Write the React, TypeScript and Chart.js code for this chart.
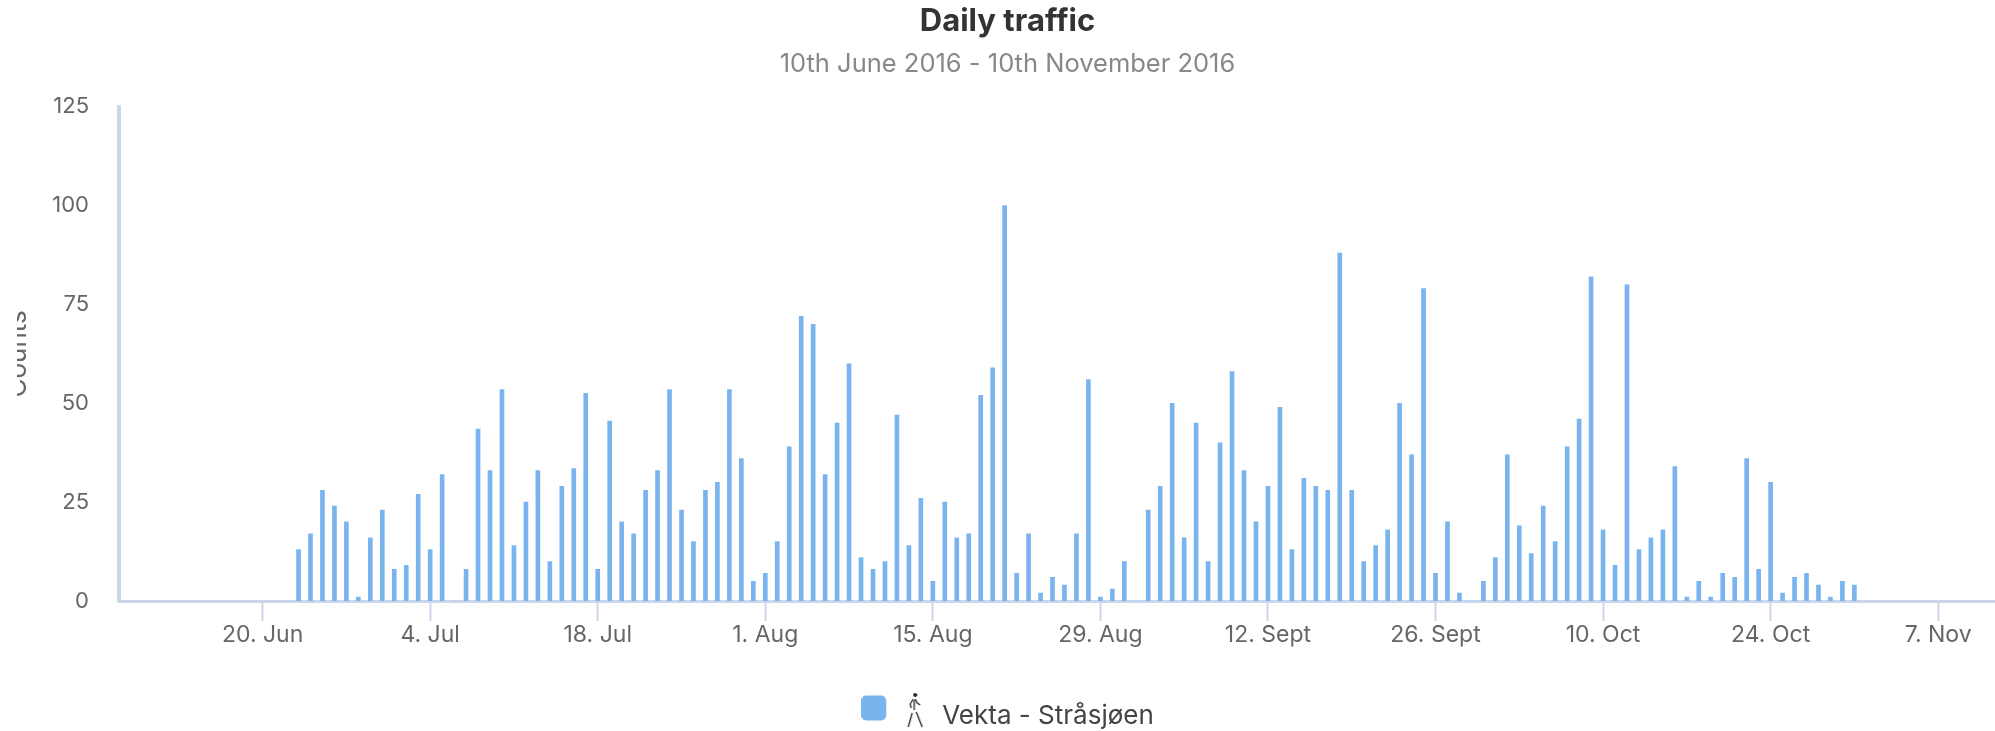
import React, { useEffect, useRef } from "react";
import { Chart, registerables } from "chart.js";

Chart.register(...registerables);

const titleText = "Daily traffic";
const subtitleText = "10th June 2016 - 10th November 2016";
const yAxisTitle = "Counts";
const seriesName = "Vekta - Stråsjøen";
const FONT = "Inter";

// one entry per day, starting on 8 June 2016
const startDay = "2016-06-08";
const tickLabels: Record<string, string> = {
  "2016-06-20": "20. Jun",
  "2016-07-04": "4. Jul",
  "2016-07-18": "18. Jul",
  "2016-08-01": "1. Aug",
  "2016-08-15": "15. Aug",
  "2016-08-29": "29. Aug",
  "2016-09-12": "12. Sept",
  "2016-09-26": "26. Sept",
  "2016-10-10": "10. Oct",
  "2016-10-24": "24. Oct",
  "2016-11-07": "7. Nov",
};
const yTicks = [0, 25, 50, 75, 100, 125];

const leadingGap = [null, null, null, null, null, null, null, null, null, null, null, null, null, null, null];
const juneCounts = [13, 17, 28, 24, 20, 1, 16, 23];
const julyCounts = [8, 9, 27, 13, 32, 0, 8, 43.5, 33, 53.5, 14, 25, 33, 10, 29, 33.5, 52.5, 8, 45.5, 20, 17, 28, 33, 53.5, 23, 15, 28, 30, 53.5, 36, 5];
const augustCounts = [7, 15, 39, 72, 70, 32, 45, 60, 11, 8, 10, 47, 14, 26, 5, 25, 16, 17, 52, 59, 100, 7, 17, 2, 6, 4, 17, 56, 1, 3, 10];
const septemberCounts = [0, 23, 29, 50, 16, 45, 10, 40, 58, 33, 20, 29, 49, 13, 31, 29, 28, 88, 28, 10, 14, 18, 50, 37, 79, 7, 20, 2, 0, 5];
const octoberCounts = [11, 37, 19, 12, 24, 15, 39, 46, 82, 18, 9, 80, 13, 16, 18, 34, 1, 5, 1, 7, 6, 36, 8, 30, 2, 6, 7, 4, 1, 5, 4];
const trailingGap = [null, null, null, null, null, null, null, null, null, null, null, null];

const counts = [...leadingGap, ...juneCounts, ...julyCounts, ...augustCounts, ...septemberCounts, ...octoberCounts, ...trailingGap];

const categories = counts.map((_, i) => {
  const d = new Date(startDay + "T00:00:00Z");
  d.setUTCDate(d.getUTCDate() + i);
  return d.toISOString().slice(0, 10);
});

function legendIcon(): HTMLCanvasElement {
  const c = document.createElement("canvas");
  c.width = 68;
  c.height = 52;
  const g = c.getContext("2d")!;
  g.fillStyle = "#7ab4ee";
  g.beginPath();
  g.roundRect(0, 5.5, 25, 25, 5);
  g.fill();
  g.translate(-5, 2);
  g.strokeStyle = "#222";
  g.fillStyle = "#222";
  g.lineWidth = 1.3;
  g.beginPath();
  g.arc(59, 3, 2, 0, Math.PI * 2);
  g.fill();
  g.beginPath();
  g.moveTo(57, 7); g.lineTo(54, 12); g.lineTo(55, 16);
  g.moveTo(59, 7); g.lineTo(61, 11); g.lineTo(64, 13);
  g.moveTo(58, 8); g.lineTo(58, 18);
  g.moveTo(56, 21); g.lineTo(52, 35);
  g.moveTo(60, 20); g.lineTo(66, 35);
  g.stroke();
  return c;
}

export default function App() {
  const ref = useRef<HTMLCanvasElement>(null);
  useEffect(() => {
    const chart = new Chart(ref.current!, {
      type: "bar",
      data: {
        labels: categories,
        datasets: [
          {
            label: seriesName,
            data: counts,
            backgroundColor: "#7ab4ee",
            barThickness: 4,
            borderWidth: 0,
          },
        ],
      },
      options: {
        responsive: false,
        animation: false,
        layout: { padding: { top: 3, left: 0, right: 0, bottom: 0 } },
        plugins: {
          tooltip: { enabled: false },
          title: {
            display: true,
            text: titleText,
            color: "#333333",
            font: { family: FONT, size: 31, weight: "bold" },
            padding: { top: 0, bottom: 9 },
          },
          subtitle: {
            display: true,
            text: subtitleText,
            color: "#888888",
            font: { family: FONT, size: 25.5, weight: "normal" },
            padding: { top: 0, bottom: 27 },
          },
          legend: {
            position: "bottom",
            onClick: undefined,
            labels: {
              usePointStyle: true,
              pointStyle: legendIcon(),
              pointStyleWidth: 68,
              color: "#444444",
              font: { family: FONT, size: 26 },
              padding: 10,
            },
          },
        },
        scales: {
          x: {
            type: "category",
            offset: false,
            afterBuildTicks: (scale: any) => {
              scale.ticks = scale.ticks.filter((t: any) => tickLabels[categories[t.value]]);
            },
            afterFit: (scale: any) => {
              scale.height = 92;
            },
            grid: {
              display: true,
              offset: false,
              drawOnChartArea: false,
              drawTicks: true,
              tickLength: 20,
              tickWidth: 2,
              tickColor: "#ccd6eb",
            },
            border: { display: true, color: "#ccd6eb", width: 3 },
            ticks: {
              autoSkip: false,
              maxRotation: 0,
              padding: 0,
              color: "#666666",
              font: { family: FONT, size: 23 },
              callback: (value: any) => tickLabels[categories[value]] ?? "",
            },
          },
          y: {
            min: 0,
            max: 125,
            afterBuildTicks: (scale: any) => {
              scale.ticks = yTicks.map((value) => ({ value }));
            },
            afterFit: (scale: any) => {
              scale.width = 102;
            },
            title: {
              display: true,
              text: yAxisTitle,
              color: "#666666",
              font: { family: FONT, size: 26 },
              padding: { top: -14, bottom: 0 },
            },
            grid: { display: false, drawTicks: false },
            border: { display: true, color: "#ccd6eb", width: 4 },
            ticks: {
              padding: 30,
              color: "#666666",
              font: { family: FONT, size: 22 },
            },
          },
        },
      },
    });
    return () => chart.destroy();
  }, []);
  return (
    <div style={{ position: "fixed", left: 0, top: 0, width: 1995, height: 731, background: "#fff", overflow: "hidden" }}>
      <canvas ref={ref} width={1981} height={739} style={{ position: "absolute", left: 17, top: 0, display: "block" }} />
    </div>
  );
}
